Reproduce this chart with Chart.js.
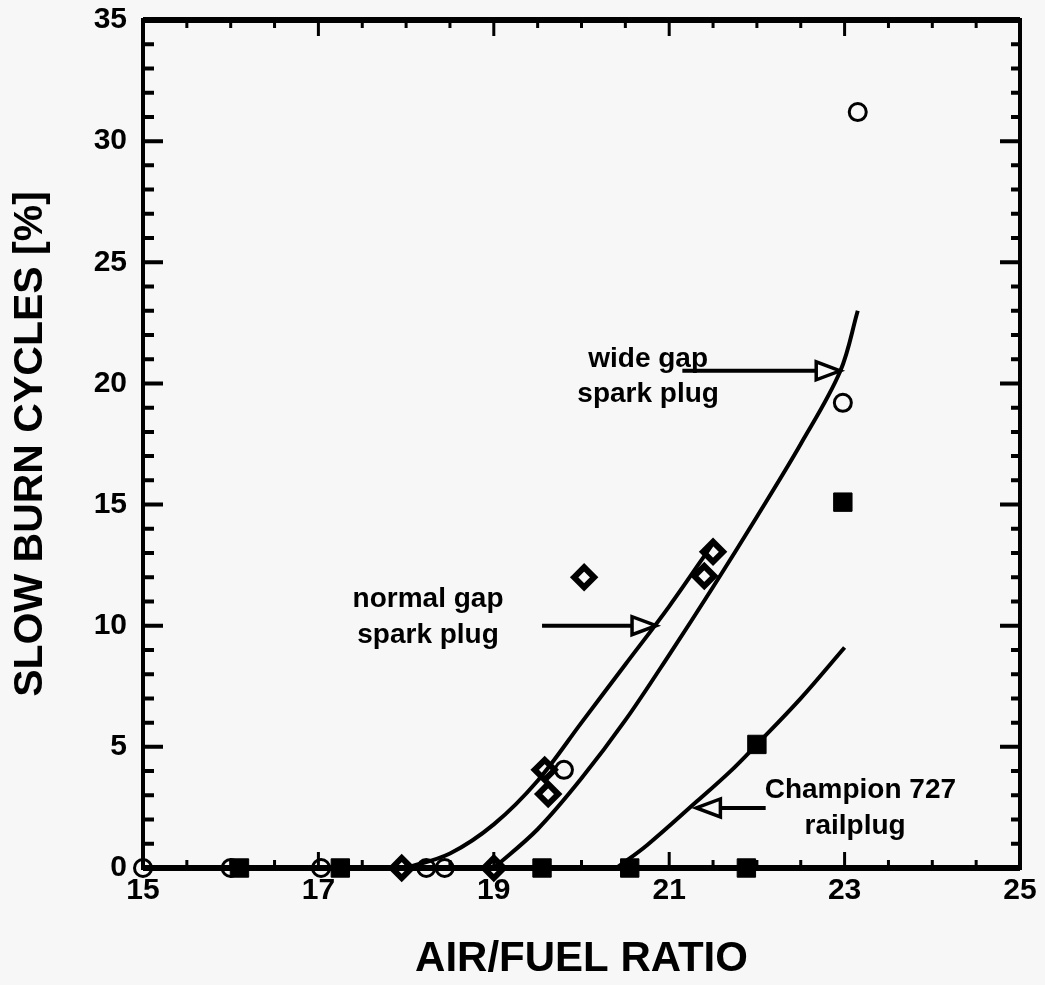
<!DOCTYPE html>
<html>
<head>
<meta charset="utf-8">
<script src="https://cdn.jsdelivr.net/npm/chart.js@4"></script>
<style>
  html, body { margin: 0; padding: 0; background: #f7f7f7; }
  #wrap { width: 1045px; height: 985px; }
</style>
</head>
<body>
<div id="wrap"><canvas id="c" width="1045" height="985"></canvas></div>
<script>
// ---- data ----
const xTickLabels = [15, 17, 19, 21, 23, 25];
const yTickLabels = [0, 5, 10, 15, 20, 25, 30, 35];

// open circles
const circleX = [15.0, 16.0, 17.03, 18.23, 18.44, 19.8, 22.98, 23.15];
const circleY = [0, 0, 0, 0, 0, 4.05, 19.2, 31.2];
// diamonds
const diamondX = [17.95, 19.0, 19.58, 19.62, 20.03, 21.4, 21.5];
const diamondY = [0, 0, 4.05, 3.05, 12.0, 12.05, 13.05];
// filled squares
const squareX = [16.1, 17.25, 19.55, 20.55, 21.88, 22.0, 22.98];
const squareY = [0, 0, 0, 0, 0, 5.1, 15.1];

// fitted curves
const normalCurveX = [18.0, 18.5, 19.0, 19.5, 20.0, 20.5, 21.0, 21.5];
const normalCurveY = [0, 0.6, 1.8, 3.6, 6.0, 8.4, 10.8, 13.4];
const wideCurveX = [19.0, 19.5, 20.0, 20.5, 21.0, 21.5, 22.0, 22.5, 22.95, 23.15];
const wideCurveY = [0, 1.6, 3.7, 6.1, 8.8, 11.6, 14.5, 17.5, 20.5, 23.0];
const champCurveX = [20.4, 20.75, 21.3, 21.7, 22.0, 22.5, 23.0];
const champCurveY = [0, 0.95, 2.7, 4.0, 5.1, 7.0, 9.1];

const zip = (xs, ys) => xs.map((v, i) => ({ x: v, y: ys[i] }));

// annotation texts & arrows (data coordinates)
const noteTexts = [
  { t: 'wide gap', x: 20.76, y: 21.0 },
  { t: 'spark plug', x: 20.76, y: 19.55 },
  { t: 'normal gap', x: 18.25, y: 11.1 },
  { t: 'spark plug', x: 18.25, y: 9.6 },
  { t: 'Champion 727', x: 23.18, y: 3.2 },
  { t: 'railplug', x: 23.12, y: 1.74 }
];
const noteArrows = [
  { x0: 21.15, x1: 22.95, y: 20.52 },
  { x0: 19.55, x1: 20.85, y: 10.0 },
  { x0: 22.1, x1: 21.31, y: 2.48 }
];

const FONT = '"Liberation Sans", Arial, Helvetica, sans-serif';
const BG = '#f7f7f7';

const framePlugin = {
  id: 'frameAndNotes',
  afterDraw(chart) {
    const { ctx, chartArea: { left, right, top, bottom }, scales: { x, y } } = chart;
    ctx.save();
    ctx.strokeStyle = '#000';
    ctx.lineCap = 'butt';
    // ticks
    ctx.lineWidth = 3;
    for (let v = 15; v <= 25.001; v += 0.5) {
      const px = x.getPixelForValue(v);
      const major = Math.abs(v % 2 - 1) < 1e-6;
      const len = major ? 16 : 8;
      ctx.beginPath();
      ctx.moveTo(px, bottom); ctx.lineTo(px, bottom - len);
      ctx.moveTo(px, top); ctx.lineTo(px, top + len);
      ctx.stroke();
    }
    for (let v = 0; v <= 35; v += 1) {
      const py = y.getPixelForValue(v);
      const major = v % 5 === 0;
      ctx.lineWidth = 4;
      ctx.beginPath();
      ctx.moveTo(left, py); ctx.lineTo(left + (major ? 20 : 11), py);
      ctx.moveTo(right, py); ctx.lineTo(right - (major ? 20 : 9), py);
      ctx.stroke();
    }
    // frame
    ctx.lineWidth = 4;
    ctx.strokeRect(left, top, right - left, bottom - top);
    ctx.lineWidth = 6;
    ctx.beginPath(); ctx.moveTo(left, top); ctx.lineTo(right, top); ctx.stroke();
    ctx.beginPath(); ctx.moveTo(left, bottom); ctx.lineTo(right, bottom); ctx.stroke();

    // notes
    ctx.fillStyle = '#000';
    ctx.font = 'bold 28px ' + FONT;
    ctx.textAlign = 'center';
    ctx.textBaseline = 'middle';
    noteTexts.forEach(n => ctx.fillText(n.t, x.getPixelForValue(n.x), y.getPixelForValue(n.y)));

    // arrows
    noteArrows.forEach(a => {
      const px0 = x.getPixelForValue(a.x0), px1 = x.getPixelForValue(a.x1), py = y.getPixelForValue(a.y);
      const dir = Math.sign(px1 - px0);
      const hl = 24, hw = 9;
      ctx.lineWidth = 4;
      ctx.beginPath(); ctx.moveTo(px0, py); ctx.lineTo(px1 - dir * hl, py); ctx.stroke();
      ctx.lineWidth = 3.5;
      ctx.beginPath();
      ctx.moveTo(px1, py);
      ctx.lineTo(px1 - dir * hl, py - hw);
      ctx.lineTo(px1 - dir * hl, py + hw);
      ctx.closePath();
      ctx.fillStyle = BG;
      ctx.fill();
      ctx.stroke();
    });
    ctx.restore();
  }
};

const bgPlugin = {
  id: 'bg',
  beforeDraw(chart) {
    const ctx = chart.ctx;
    ctx.save();
    ctx.fillStyle = BG;
    ctx.fillRect(0, 0, chart.width, chart.height);
    ctx.restore();
  }
};

const curveStyle = {
  showLine: true, borderColor: '#000', borderWidth: 4, pointRadius: 0,
  tension: 0.35, fill: false
};

new Chart(document.getElementById('c'), {
  type: 'scatter',
  data: {
    datasets: [
      { label: 'normal gap spark plug', data: zip(normalCurveX, normalCurveY), ...curveStyle },
      { label: 'wide gap spark plug', data: zip(wideCurveX, wideCurveY), ...curveStyle },
      { label: 'Champion 727 railplug', data: zip(champCurveX, champCurveY), ...curveStyle },
      { label: 'squares', data: zip(squareX, squareY), pointStyle: 'rect', pointRadius: 13,
        backgroundColor: '#000', borderColor: '#000', borderWidth: 1, clip: false },
      { label: 'diamonds', data: zip(diamondX, diamondY), pointStyle: 'rectRot', pointRadius: 10,
        backgroundColor: BG, borderColor: '#000', borderWidth: 6, clip: false },
      { label: 'circles', data: zip(circleX, circleY), pointStyle: 'circle', pointRadius: 8.5,
        backgroundColor: BG, borderColor: '#000', borderWidth: 3, clip: false }
    ]
  },
  options: {
    responsive: false,
    animation: false,
    events: [],
    layout: { padding: { top: 20, right: 25, left: 0, bottom: 0 } },
    plugins: { legend: { display: false }, tooltip: { enabled: false } },
    scales: {
      x: {
        type: 'linear', min: 15, max: 25,
        afterBuildTicks: s => { s.ticks = xTickLabels.map(v => ({ value: v })); },
        afterFit: s => { s.height = 117; s.paddingLeft = 0; s.paddingRight = 0; },
        grid: { display: false, drawTicks: false },
        border: { display: false },
        ticks: { color: '#000', padding: 5, font: { family: FONT, size: 30, weight: 'bold' } },
        title: { display: true, text: 'AIR/FUEL RATIO', color: '#000',
          padding: { top: 0, bottom: 0 }, font: { family: FONT, size: 42, weight: 'bold' } }
      },
      y: {
        type: 'linear', min: 0, max: 35,
        afterBuildTicks: s => { s.ticks = yTickLabels.map(v => ({ value: v })); },
        afterFit: s => { s.width = 143; s.paddingTop = 0; s.paddingBottom = 0; },
        grid: { display: false, drawTicks: false },
        border: { display: false },
        ticks: { color: '#000', padding: 16, font: { family: FONT, size: 30, weight: 'bold' } },
        title: { display: true, text: 'SLOW BURN CYCLES [%]', color: '#000',
          padding: { top: 6, bottom: 0 }, font: { family: FONT, size: 41, weight: 'bold' } }
      }
    }
  },
  plugins: [bgPlugin, framePlugin]
});
</script>
</body>
</html>
